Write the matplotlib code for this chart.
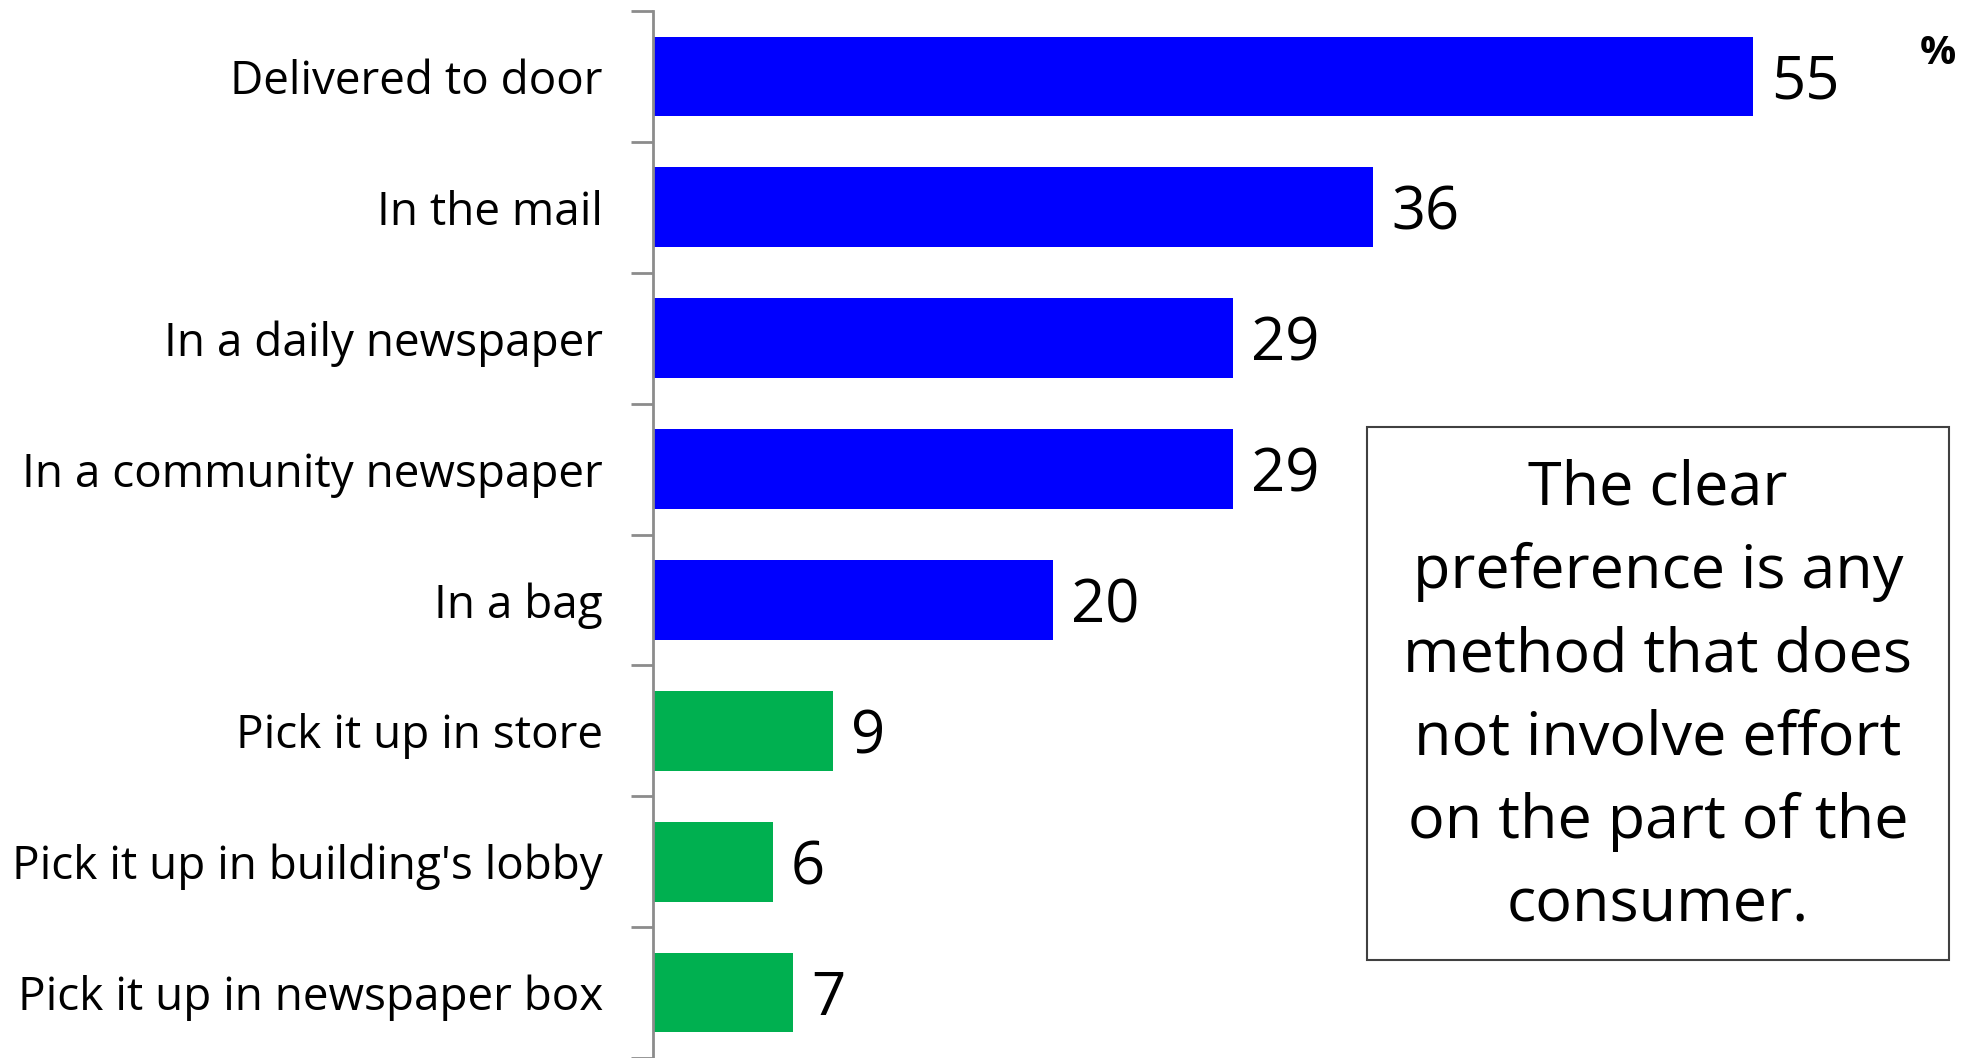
import numpy as np
import matplotlib
matplotlib.use("Agg")
import matplotlib.pyplot as plt
from matplotlib.patches import Rectangle

plt.rcParams['font.family'] = ['Open Sans', 'DejaVu Sans']

categories = ["Delivered to door", "In the mail", "In a daily newspaper",
              "In a community newspaper", "In a bag", "Pick it up in store",
              "Pick it up in building's lobby", "Pick it up in newspaper box"]
values = [55, 36, 29, 29, 20, 9, 6, 7]
colors = ["#0000FF"] * 5 + ["#00B050"] * 3
note = ("The clear\npreference is any\nmethod that does\n"
        "not involve effort\non the part of the\nconsumer.")

W, H = 1965, 1058
fig = plt.figure(figsize=(W / 100, H / 100), dpi=100)
ax = fig.add_axes([653 / W, 0, 1 - 653 / W, 1 - 11 / H])

y = np.arange(len(categories))
ax.barh(y, values, height=0.61, color=colors)
ax.set_ylim(len(categories) - 0.5, -0.5)
ax.set_xlim(0, 65.6)

for yi, v in zip(y, values):
    ax.text(v + 0.9, yi + 0.05, str(v), va='center', ha='left', fontsize=43)

ax.set_yticks(y)
ax.set_yticklabels(categories, fontsize=33)
ax.tick_params(axis='y', which='major', length=0, pad=36)
ax.set_yticks(np.arange(-0.5, len(categories), 1), minor=True)
ax.tick_params(axis='y', which='minor', length=16, width=2, color='#8c8c8c')
ax.set_xticks([])
for s in ['top', 'right', 'bottom']:
    ax.spines[s].set_visible(False)
ax.spines['left'].set_color('#8c8c8c')
ax.spines['left'].set_linewidth(2)

fig.text(1938 / W, 1 - 54 / H, "%", fontsize=29, fontweight='bold',
         ha='center', va='center')

box = Rectangle((1367 / W, 1 - 960 / H), (1949 - 1367) / W, (960 - 427) / H,
                transform=fig.transFigure, fill=False, edgecolor='#404040',
                linewidth=1.5)
fig.patches.append(box)
fig.text(1658 / W, 1 - 697 / H, note, fontsize=44, ha='center', va='center',
         linespacing=1.51)

fig.savefig("out.png", dpi=100)
